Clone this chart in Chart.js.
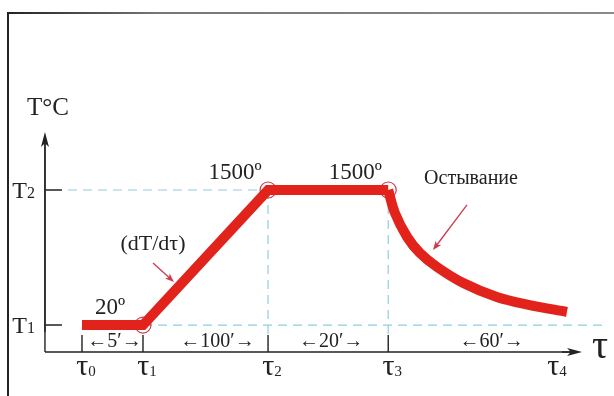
<!DOCTYPE html>
<html>
<head>
<meta charset="utf-8">
<script src="https://cdn.jsdelivr.net/npm/chart.js@4.4.0/dist/chart.umd.min.js"></script>
<style>
  html, body { margin: 0; padding: 0; background: #fff; }
  #wrap { position: relative; width: 614px; height: 396px; overflow: hidden; }
  #wrap canvas { position: absolute; left: 0; top: 0; }
  #frameTop { position: absolute; left: 7px; top: 12px; right: 0; height: 2px;
    background: linear-gradient(to right, #222, #777 25%, #8a8a8a); }
  #frameLeft { position: absolute; left: 7px; top: 12px; bottom: 0; width: 2px; background: #222; }
</style>
</head>
<body>
<div id="wrap">
  <canvas id="chart" width="614" height="396"></canvas>
  <div id="frameTop"></div>
  <div id="frameLeft"></div>
</div>
<script>
// ---- data (schematic time axis, temperature in °C) ----
const tauNames = ['τ', 'τ', 'τ', 'τ', 'τ'];
const tauSubs = ['0', '1', '2', '3', '4'];
const tauPos = [0, 1, 3.05, 5.02, 7.72];
const levelTemps = [20, 1500];
const levelSubs = ['1', '2'];
const durations = ['5′', '100′', '20′', '60′'];

const heatX = [0, 1, 3.05, 5.02];
const heatT = [20, 20, 1500, 1500];
const coolX = [5.02, 5.13, 5.33, 5.54, 5.82, 6.25, 6.80, 7.34, 7.95];
const coolT = [1500, 1248, 985, 809, 656, 480, 327, 239, 163];
const cornerX = [1, 3.05, 5.02];
const cornerT = [20, 1500, 1500];
const cornerLabels = ['20º', '1500º', '1500º'];

// axis origin (schematic)
const originX = -0.607;
const originT = -276;
const yAxisTop = 2136;
const xAxisEnd = 8.197;

const SERIF = '"Liberation Serif", "Times New Roman", serif';
const RED = '#e2231c';
const PINK = '#cf3a4c';
const GUIDE = '#92cbe0';

const pts = (xs, ys) => xs.map((x, i) => ({ x: x, y: ys[i] }));

function arrow(ctx, x1, y1, x2, y2, len, half, color, width) {
  const a = Math.atan2(y2 - y1, x2 - x1);
  ctx.save();
  ctx.strokeStyle = color;
  ctx.fillStyle = color;
  ctx.lineWidth = width;
  ctx.beginPath();
  ctx.moveTo(x1, y1);
  ctx.lineTo(x2 - Math.cos(a) * len * 0.7, y2 - Math.sin(a) * len * 0.7);
  ctx.stroke();
  ctx.beginPath();
  ctx.moveTo(x2, y2);
  ctx.lineTo(x2 - Math.cos(a) * len + Math.sin(a) * half, y2 - Math.sin(a) * len - Math.cos(a) * half);
  ctx.lineTo(x2 - Math.cos(a) * len * 0.75, y2 - Math.sin(a) * len * 0.75);
  ctx.lineTo(x2 - Math.cos(a) * len - Math.sin(a) * half, y2 - Math.sin(a) * len + Math.cos(a) * half);
  ctx.closePath();
  ctx.fill();
  ctx.restore();
}

// main glyph + small subscript, anchored by align ('center' | 'right')
function subText(ctx, main, sub, x, y, mainSize, subSize, align, subDrop) {
  ctx.font = mainSize + 'px ' + SERIF;
  const wm = ctx.measureText(main).width;
  ctx.font = subSize + 'px ' + SERIF;
  const ws = ctx.measureText(sub).width;
  const total = wm + ws;
  let left = x;
  if (align === 'center') left = x - total / 2;
  if (align === 'right') left = x - total;
  ctx.textAlign = 'left';
  ctx.textBaseline = 'alphabetic';
  ctx.font = mainSize + 'px ' + SERIF;
  ctx.fillText(main, left, y);
  ctx.font = subSize + 'px ' + SERIF;
  ctx.fillText(sub, left + wm, y + subDrop);
}

const schemePlugin = {
  id: 'scheme',
  beforeDatasetsDraw(chart) {
    const ctx = chart.ctx;
    const xs = chart.scales.x, ys = chart.scales.y;
    const X = v => xs.getPixelForValue(v);
    const Y = v => ys.getPixelForValue(v);
    const ox = X(originX), oy = Y(originT);

    // dashed guides
    ctx.save();
    ctx.strokeStyle = GUIDE;
    ctx.lineWidth = 1.2;
    ctx.setLineDash([9, 6]);
    ctx.beginPath();
    ctx.moveTo(ox + 23, Y(levelTemps[1]));
    ctx.lineTo(X(tauPos[2]), Y(levelTemps[1]));
    ctx.moveTo(X(tauPos[1]), Y(levelTemps[0]));
    ctx.lineTo(X(8.54), Y(levelTemps[0]));
    [2, 3].forEach(i => {
      ctx.moveTo(X(tauPos[i]), Y(levelTemps[1]));
      ctx.lineTo(X(tauPos[i]), oy - 17);
    });
    ctx.stroke();
    ctx.restore();

    // axes
    ctx.save();
    ctx.strokeStyle = '#222';
    ctx.lineWidth = 1.4;
    ctx.beginPath();
    ctx.moveTo(ox, oy);
    ctx.lineTo(ox, Y(yAxisTop) + 10);
    ctx.moveTo(ox, oy);
    ctx.lineTo(X(xAxisEnd) - 10, oy);
    // level ticks
    levelTemps.forEach(t => { ctx.moveTo(ox, Y(t)); ctx.lineTo(ox + 17, Y(t)); });
    // tau ticks
    tauPos.slice(0, 4).forEach(p => { ctx.moveTo(X(p), oy); ctx.lineTo(X(p), oy - 17); });
    ctx.stroke();
    ctx.restore();
    arrow(ctx, ox, oy - 20, ox, Y(yAxisTop), 15, 4, '#222', 1.4);
    arrow(ctx, X(xAxisEnd) - 20, oy, X(xAxisEnd), oy, 15, 4, '#222', 1.4);
  },
  afterDatasetsDraw(chart) {
    const ctx = chart.ctx;
    const xs = chart.scales.x, ys = chart.scales.y;
    const X = v => xs.getPixelForValue(v);
    const Y = v => ys.getPixelForValue(v);
    const ox = X(originX), oy = Y(originT);
    ctx.save();
    ctx.fillStyle = '#222';

    // axis titles
    ctx.font = '25px ' + SERIF;
    ctx.textAlign = 'left';
    ctx.textBaseline = 'alphabetic';
    ctx.fillText('T°C', ox - 18, Y(yAxisTop) - 17);
    ctx.font = '40px ' + SERIF;
    ctx.fillText('τ', X(xAxisEnd) + 10, oy + 6);

    // level labels T1, T2
    levelTemps.forEach((t, i) => subText(ctx, 'T', levelSubs[i], ox - 10, Y(t) + 8, 24, 16, 'right', 0));

    // tau labels
    tauPos.forEach((p, i) => subText(ctx, tauNames[i], tauSubs[i], X(p) + 4, oy + 23, 30, 15, 'center', 1));

    // duration labels between ticks
    const nudge = [2, 12, 3, 21];
    ctx.font = '20px ' + SERIF;
    ctx.textAlign = 'center';
    durations.forEach((d, i) => {
      const cx = (X(tauPos[i]) + X(tauPos[i + 1])) / 2 + nudge[i];
      ctx.fillText('←' + d + '→', cx, oy - 5);
    });

    // corner temperature labels
    ctx.font = '23px ' + SERIF;
    cornerX.forEach((cx, i) => {
      ctx.fillText(cornerLabels[i], X(cx) - 33, Y(cornerT[i]) - 11);
    });

    // annotations with pointers
    ctx.font = '22px ' + SERIF;
    ctx.fillText('(dT/dτ)', X(1.164), Y(842));
    ctx.font = '20px ' + SERIF;
    ctx.fillText('Остывание', X(6.377), Y(1566));
    ctx.restore();
    arrow(ctx, X(1.164), Y(700), X(1.508), Y(491), 9, 3.5, PINK, 1.3);
    arrow(ctx, X(6.311), Y(1336), X(5.754), Y(842), 9, 3.5, PINK, 1.3);
  }
};

new Chart(document.getElementById('chart'), {
  type: 'line',
  data: {
    datasets: [
      {
        data: pts(heatX, heatT),
        borderColor: RED,
        borderWidth: 10,
        borderJoinStyle: 'miter',
        borderCapStyle: 'butt',
        tension: 0,
        pointRadius: 0
      },
      {
        data: pts(coolX, coolT),
        borderColor: RED,
        borderWidth: 10,
        borderCapStyle: 'butt',
        tension: 0.35,
        pointRadius: 0
      },
      {
        data: pts(cornerX, cornerT),
        showLine: false,
        pointRadius: 8,
        pointBorderWidth: 1.2,
        pointBorderColor: PINK,
        pointBackgroundColor: 'rgba(0,0,0,0)'
      }
    ]
  },
  options: {
    responsive: false,
    animation: false,
    layout: { padding: 0, autoPadding: false },
    plugins: { legend: { display: false }, tooltip: { enabled: false } },
    scales: {
      x: { type: 'linear', min: -1.344, max: 8.721, display: false },
      y: { type: 'linear', min: -758, max: 3583, display: false }
    }
  },
  plugins: [schemePlugin]
});
</script>
</body>
</html>
